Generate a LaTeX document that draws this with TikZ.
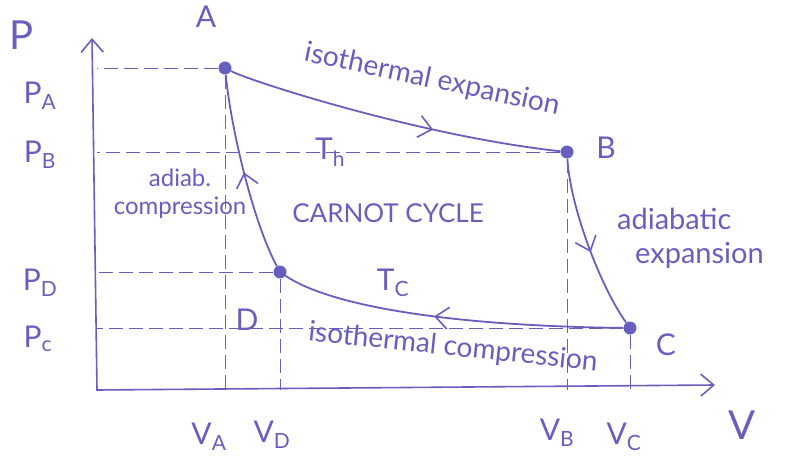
\documentclass[tikz,border=0pt]{standalone}
\usepackage{fontspec}
\setmainfont{Lato}
\usetikzlibrary{arrows.meta,decorations.markings}
\definecolor{inkblue}{RGB}{104,94,190}
\tikzset{
  cycleline/.style={draw=inkblue, line width=1.8pt},
  axisline/.style={draw=inkblue, line width=1.6pt},
  guide/.style={draw=inkblue, line width=0.6pt, dash pattern=on 14pt off 6pt},
  statept/.style={circle, fill=inkblue, inner sep=0pt, minimum size=13pt},
  barb/.tip={Straight Barb[length=13pt,width=22pt,line width=1.6pt]},
  midarrow/.style={postaction={decorate}, decoration={markings, mark=at position #1 with {\arrow{barb}}}},
  biglbl/.style={text=inkblue, font=\fontsize{40}{44}\selectfont},
  lbl/.style={text=inkblue, font=\fontsize{30}{34}\selectfont},
  note/.style={text=inkblue, font=\fontsize{24}{28}\selectfont, align=center, inner sep=1pt},
}
\begin{document}
\begin{tikzpicture}[x=1pt, y=1pt]
\useasboundingbox (0,0) rectangle (805,466);
\coordinate (O) at (97,76);
\coordinate (ytop) at (92,428);
\coordinate (xend) at (715,81);
\draw[axisline, barb-barb] (ytop) -- (O) -- (xend);

\node[statept] (A) at (225,398) {};
\node[statept] (B) at (567,314) {};
\node[statept] (C) at (630,138) {};
\node[statept] (D) at (280,194) {};

\draw[guide] (A) -- (A -| O);
\draw[guide] (B) -- (B -| O);
\draw[guide] (D) -- (D -| O);
\draw[guide] (C) -- (C -| O);
\draw[guide] (A) -- (A |- O);
\draw[guide] (D) -- (D |- O);
\draw[guide] (B) -- (B |- O);
\draw[guide] (C) -- (C |- O);

\draw[cycleline, midarrow=0.62] (A) .. controls (250,385) and (420,330) .. (B);
\draw[cycleline, midarrow=0.55] (B) .. controls (570,260) and (600,180) .. (C);
\draw[cycleline, midarrow=0.55] (C) .. controls (450,140) and (330,160) .. (D);
\draw[cycleline, midarrow=0.5] (D) .. controls (255,240) and (232,330) .. (A);

\node[biglbl] (pax) at (22,431) {P};
\node[biglbl] (vax) at (742,41) {V};
\node[lbl] (labA) at (206,449) {A};
\node[lbl] (labB) at (606,318) {B};
\node[lbl] (labC) at (666,121) {C};
\node[lbl] (labD) at (247,146) {D};

\node[lbl] (pA) at (40,370) {P\textsubscript{A}};
\node[lbl] (pB) at (40,311) {P\textsubscript{B}};
\node[lbl] (pD) at (40,183) {P\textsubscript{D}};
\node[lbl] (pC) at (38,127) {P\textsubscript{c}};
\node[lbl] (vA) at (209,29) {V\textsubscript{A}};
\node[lbl] (vD) at (272,31) {V\textsubscript{D}};
\node[lbl] (vB) at (557,33) {V\textsubscript{B}};
\node[lbl] (vC) at (624,29) {V\textsubscript{C}};

\node[lbl] (th) at (330,314) {T\textsubscript{h}};
\node[lbl] (tc) at (393,183) {T\textsubscript{C}};
\node[note, rotate=-12, font=\fontsize{28}{32}\selectfont] (isoexp) at (432,386) {isothermal expansion};
\node[note, rotate=-6, font=\fontsize{28}{32}\selectfont] (isocomp) at (453,118) {isothermal compression};
\node[note] (adcomp) at (180,272) {adiab.\\compression};
\node[note, align=left, anchor=west, font=\fontsize{29}{34}\selectfont] (adexp) at (616,228) {adiabatic\\\hspace*{18pt}expansion};
\node[note, font=\fontsize{26}{30}\selectfont] (title) at (388,253) {CARNOT CYCLE};
\end{tikzpicture}
\end{document}
